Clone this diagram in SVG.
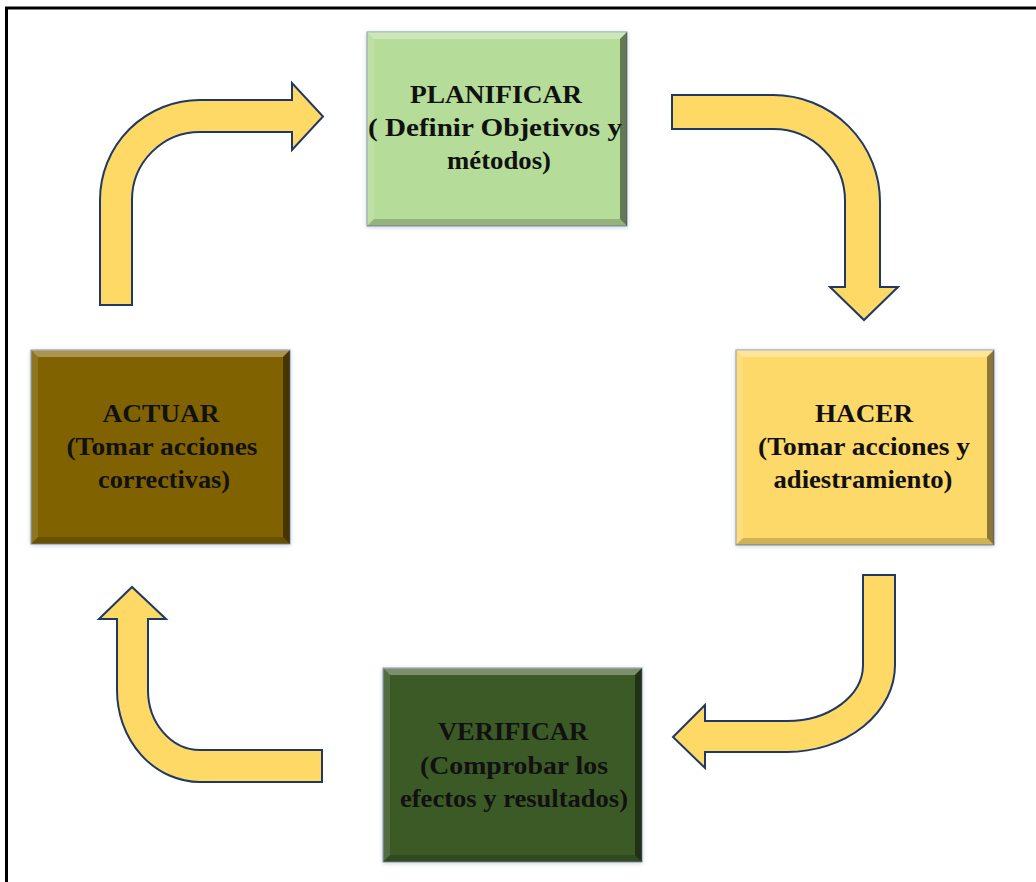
<svg xmlns="http://www.w3.org/2000/svg" width="1036" height="882" viewBox="0 0 1036 882">
<style>
.frame{fill:none;stroke:#000;stroke-width:3}
.arrow{fill:#FFD966;stroke:#1F3864;stroke-width:2;stroke-linejoin:miter}
.base{stroke:#8595ad;stroke-width:1}
.hi{fill:#fff;fill-opacity:0.32}
.hl{fill:#fff;fill-opacity:0.12}
.dr{fill:#000;fill-opacity:0.45}
.db{fill:#000;fill-opacity:0.18}
.t{font-family:"Liberation Serif","Times New Roman",serif;font-weight:bold;font-size:26px;fill:#111;text-anchor:middle}
</style>
<defs>
<filter id="sh" x="-10%" y="-10%" width="120%" height="120%">
<feDropShadow dx="0" dy="1" stdDeviation="2" flood-color="#6b7f99" flood-opacity="0.35"/>
</filter>
</defs>
<rect x="0" y="0" width="1036" height="882" fill="#fff"/>
<rect class="frame" x="6.5" y="8" width="1100" height="1000"/>

<g id="connectors">
<path class="arrow" d="M100,305 L100,200 A100,100 0 0 1 200,100 L292,100 L292,83 L323,116.5 L292,150 L292,132 L200,132 A68,68 0 0 0 132,200 L132,305 Z"/>
<path class="arrow" d="M672,95 L773,95 A107,107 0 0 1 880,202 L880,287 L898,287 L864,320 L830,287 L845,287 L845,202 A72,72 0 0 0 773,129 L672,129 Z"/>
<path class="arrow" d="M863,575 L895,575 L895,665 A108,87 0 0 1 787,752 L705,752 L705,768 L673,737 L705,705 L705,721 L787,721 A76,56 0 0 0 863,665 Z"/>
<path class="arrow" d="M322,750 L322,782 L200,782 A83,92 0 0 1 117,690 L117,619 L99,619 L132,587 L166,619 L148,619 L148,690 A52,60 0 0 0 200,750 Z"/>
</g>

<g id="planificar">
<g filter="url(#sh)"><rect class="base" x="367" y="32" width="260" height="194" fill="#B5DC98"/></g>
<polygon class="hi" points="367,32 627,32 620,39 374,39"/>
<polygon class="hl" points="367,32 374,39 374,219 367,226"/>
<polygon class="dr" points="627,32 627,226 620,219 620,39"/>
<polygon class="db" points="367,226 627,226 620,219 374,219"/>
<text class="t" x="496" y="103" textLength="172" lengthAdjust="spacingAndGlyphs">PLANIFICAR</text>
<text class="t" x="495" y="136" textLength="254" lengthAdjust="spacingAndGlyphs">( Definir Objetivos y</text>
<text class="t" x="499" y="169" textLength="104" lengthAdjust="spacingAndGlyphs">métodos)</text>
</g>

<g id="hacer">
<g filter="url(#sh)"><rect class="base" x="736" y="350" width="258" height="195" fill="#FDD96A"/></g>
<polygon class="hi" points="736,350 994,350 987,357 743,357"/>
<polygon class="hl" points="736,350 743,357 743,538 736,545"/>
<polygon class="dr" points="994,350 994,545 987,538 987,357"/>
<polygon class="db" points="736,545 994,545 987,538 743,538"/>
<text class="t" x="864" y="422" textLength="98" lengthAdjust="spacingAndGlyphs">HACER</text>
<text class="t" x="864" y="455" textLength="212" lengthAdjust="spacingAndGlyphs">(Tomar acciones y</text>
<text class="t" x="863" y="488" textLength="179" lengthAdjust="spacingAndGlyphs">adiestramiento)</text>
</g>

<g id="verificar">
<g filter="url(#sh)"><rect class="base" x="383" y="668" width="259" height="194" fill="#3A5A25"/></g>
<polygon class="hi" points="383,668 642,668 635,675 390,675"/>
<polygon class="hl" points="383,668 390,675 390,855 383,862"/>
<polygon class="dr" points="642,668 642,862 635,855 635,675"/>
<polygon class="db" points="383,862 642,862 635,855 390,855"/>
<text class="t" x="513" y="740" textLength="150" lengthAdjust="spacingAndGlyphs">VERIFICAR</text>
<text class="t" x="514" y="774" textLength="188" lengthAdjust="spacingAndGlyphs">(Comprobar los</text>
<text class="t" x="514" y="807" textLength="228" lengthAdjust="spacingAndGlyphs">efectos y resultados)</text>
</g>

<g id="actuar">
<g filter="url(#sh)"><rect class="base" x="31" y="350" width="259" height="194" fill="#806205"/></g>
<polygon class="hi" points="31,350 290,350 283,357 38,357"/>
<polygon class="hl" points="31,350 38,357 38,537 31,544"/>
<polygon class="dr" points="290,350 290,544 283,537 283,357"/>
<polygon class="db" points="31,544 290,544 283,537 38,537"/>
<text class="t" x="161" y="422" textLength="117" lengthAdjust="spacingAndGlyphs">ACTUAR</text>
<text class="t" x="162" y="455" textLength="191" lengthAdjust="spacingAndGlyphs">(Tomar acciones</text>
<text class="t" x="164" y="488" textLength="132" lengthAdjust="spacingAndGlyphs">correctivas)</text>
</g>
</svg>
